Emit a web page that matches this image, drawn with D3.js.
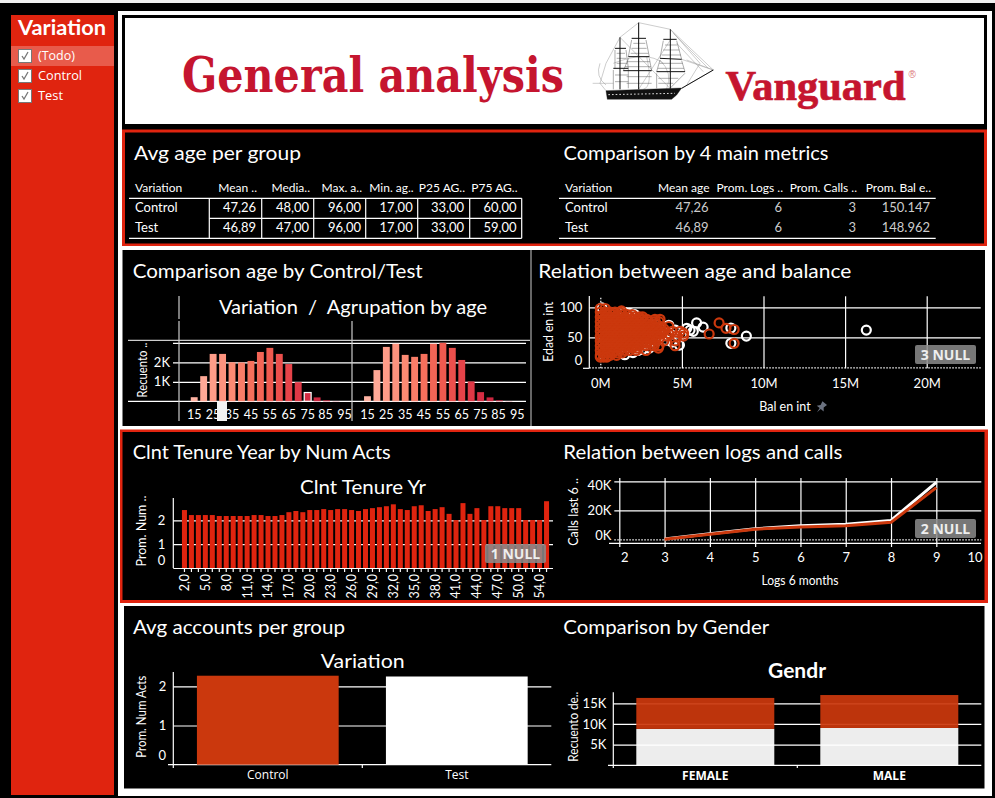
<!DOCTYPE html>
<html lang="en">
<head>
    <meta charset="UTF-8">
    <title>General analysis</title>
    <script type="text/javascript" src="https://cdn.jsdelivr.net/npm/d3@7"></script>
    <style>
        html, body { margin: 0; padding: 0; background: #000; overflow: hidden; }
        text { font-family: Lato, "Noto Sans", sans-serif; fill: #fff; white-space: pre; }
    </style>
</head>
<body>
<script type="text/javascript">
    var w = 995;
    var h = 798;

    // filter list
    var filterItems = ["(Todo)", "Control", "Test"];

    // tables
    var groups = ["Control", "Test"];
    var ageHeaders = ["Mean ..", "Media..", "Max. a..", "Min. ag..", "P25 AG..", "P75 AG.."];
    var ageRows = [
        ["47,26", "48,00", "96,00", "17,00", "33,00", "60,00"],
        ["46,89", "47,00", "96,00", "17,00", "33,00", "59,00"]
    ];
    var metricHeaders = ["Mean age", "Prom. Logs ..", "Prom. Calls ..", "Prom. Bal e.."];
    var metricRows = [
        ["47,26", "6", "3", "150.147"],
        ["46,89", "6", "3", "148.962"]
    ];

    // age histogram
    var ageBins = [15, 20, 25, 30, 35, 40, 45, 50, 55, 60, 65, 70, 75, 80, 85, 90, 95];
    var ageTicks = [15, 25, 35, 45, 55, 65, 75, 85, 95];
    var controlCounts = [210, 1290, 2430, 2430, 2000, 1990, 2070, 2530, 2740, 2430, 1910, 980, 450, 200, 50, 10, 0];
    var testCounts = [260, 1600, 2790, 2950, 2380, 2280, 2430, 2950, 3000, 2740, 2120, 1020, 470, 200, 50, 10, 0];

    // scatter: balance in millions, age. Dense part is one list of balances per age
    var denseAges = [98, 92, 88, 84, 80, 76, 72, 68, 64, 60, 56, 52, 48, 44, 40, 36, 32, 28, 24, 20, 17];
    var denseBalances = [
        [0, 0.3],
        [0, 0.3, 0.6, 0.9, 1.2],
        [0.15, 0.45, 0.75, 1.05, 1.35, 1.65, 1.95],
        [0, 0.3, 0.6, 0.9, 1.2, 1.5, 1.8, 2.1, 2.4, 2.6],
        [0.15, 0.45, 0.75, 1.05, 1.35, 1.65, 1.95, 2.25, 2.55, 2.85],
        [0, 0.3, 0.6, 0.9, 1.2, 1.5, 1.8, 2.1, 2.4, 2.7, 3.0, 3.3, 3.6],
        [0.15, 0.45, 0.75, 1.05, 1.35, 1.65, 1.95, 2.25, 2.55, 2.85, 3.15, 3.45],
        [0, 0.3, 0.6, 0.9, 1.2, 1.5, 1.8, 2.1, 2.4, 2.7, 3.0, 3.3, 3.7, 4.2],
        [0.15, 0.45, 0.75, 1.05, 1.35, 1.65, 1.95, 2.25, 2.55, 2.85, 3.15, 3.45, 3.9],
        [0, 0.3, 0.6, 0.9, 1.2, 1.5, 1.8, 2.1, 2.4, 2.7, 3.0, 3.3, 3.6, 3.9, 4.4, 4.9],
        [0.15, 0.45, 0.75, 1.05, 1.35, 1.65, 1.95, 2.25, 2.55, 2.85, 3.15, 3.45, 3.75, 4.2],
        [0, 0.3, 0.6, 0.9, 1.2, 1.5, 1.8, 2.1, 2.4, 2.7, 3.0, 3.2, 3.5, 4.1, 4.7, 5.1],
        [0.15, 0.45, 0.75, 1.05, 1.35, 1.65, 1.95, 2.25, 2.55, 2.85, 3.15, 3.6],
        [0, 0.3, 0.6, 0.9, 1.2, 1.5, 1.8, 2.1, 2.4, 2.7, 3.0, 3.4, 3.9, 4.6],
        [0.15, 0.45, 0.75, 1.05, 1.35, 1.65, 1.95, 2.25, 2.55, 2.85, 3.3],
        [0, 0.3, 0.6, 0.9, 1.2, 1.5, 1.8, 2.1, 2.4, 2.8, 3.3, 3.6],
        [0.15, 0.45, 0.75, 1.05, 1.35, 1.65, 1.95, 2.25],
        [0, 0.3, 0.6, 0.9, 1.2, 1.5, 1.8, 2.2, 2.8],
        [0.15, 0.45, 0.75, 1.05, 1.35],
        [0, 0.3, 0.6, 1.0],
        [0, 0.2, 0.4]
    ];
    var controlOutliers = [[1.3, 94], [3.35, 80], [3.66, 80], [3.56, 32], [4.58, 36], [5.1, 57], [6.67, 55.5], [7.28, 74], [7.7, 65], [8.2, 63], [8.2, 40]];
    var testPoints = [[0.1, 99], [1.5, 91], [1.8, 90], [2.1, 88], [3.4, 72], [4.2, 70], [4.6, 62], [5.5, 62], [5.3, 65], [5.7, 60], [5.9, 74], [6.3, 67],
        [8.0, 65.5], [8.0, 40], [8.95, 52], [16.3, 62], [5.0, 55], [4.3, 55], [3.8, 52], [3.5, 45], [4.0, 45], [4.4, 42], [4.85, 37], [3.0, 32], [2.6, 30], [2.3, 28], [2.0, 24.5], [1.5, 21]];

    // tenure bars
    var tenureYears = [2, 3, 4, 5, 6, 7, 8, 9, 10, 11, 12, 13, 14, 15, 16, 17, 18, 19, 20, 21, 22, 23, 24, 25, 26, 27, 28, 29, 30, 31, 32, 33, 34, 35, 36, 37, 38, 39, 40, 41, 42, 43, 44, 45, 46, 47, 48, 49, 50, 51, 52, 54, 55];
    var tenureActs = [2.43, 2.22, 2.22, 2.22, 2.22, 2.18, 2.18, 2.18, 2.18, 2.18, 2.22, 2.22, 2.18, 2.18, 2.22, 2.34, 2.39, 2.34, 2.43, 2.43, 2.47, 2.43, 2.47, 2.47, 2.43, 2.39, 2.47, 2.51, 2.55, 2.59, 2.67, 2.47, 2.43, 2.59, 2.63, 2.39, 2.47, 2.55, 2.27, 2.01, 2.72, 2.27, 2.51, 2.01, 2.59, 2.59, 2.51, 2.51, 2.51, 2.01, 2.01, 2.01, 2.80];

    // logs vs calls
    var logs = [3, 4, 5, 6, 7, 8, 9];
    var callsTest = [200, 3800, 7200, 9400, 10300, 13000, 39300];
    var callsControl = [0, 3500, 7000, 8500, 9400, 11700, 35600];

    // accounts per group
    var avgAccounts = [2.27, 2.25];

    // gender
    var genders = ["FEMALE", "MALE"];
    var genderTest = [8800, 9030];
    var genderControl = [7500, 7970];

    var rust = "#cb380d";
    var red = "#e0240f";
    var brand = "#c5152f";

    var svg = d3.select("body")
        .append("svg")
        .attr("width", w)
        .attr("height", h)
        .style("display", "block");

    function box(x0, y0, x1, y1, fill) {
        return svg.append("rect")
            .attr("x", x0).attr("y", y0)
            .attr("width", x1 - x0).attr("height", y1 - y0)
            .attr("fill", fill);
    }

    function label(parent, x, y, str, size, opts) {
        opts = opts || {};
        var t = parent.append("text")
            .attr("x", x)
            .attr("y", y)
            .attr("font-size", size)
            .attr("text-anchor", opts.anchor || "start")
            .text(str);
        if (opts.width) t.attr("textLength", opts.width).attr("lengthAdjust", "spacingAndGlyphs");
        if (opts.weight) t.attr("font-weight", opts.weight);
        if (opts.family) t.style("font-family", opts.family);
        if (opts.color) t.style("fill", opts.color);
        return t;
    }

    function sideLabel(x, y, str, size, width) {
        return label(svg, 0, 0, str, size, { anchor: "middle", width: width })
            .attr("transform", "translate(" + x + "," + y + ") rotate(-90)");
    }

    // white axis lines and labels on every chart
    function styleAxis(g, size) {
        g.select(".domain").remove();
        g.selectAll("line").attr("stroke", "#fff").attr("stroke-width", 1.2);
        g.selectAll("text").attr("font-size", size || 13);
        return g;
    }

    function moveTick(g, value, dx, dy) {
        g.selectAll(".tick").filter(function (d) { return d === value; })
            .select("text")
            .attr("transform", "translate(" + dx + "," + dy + ")");
    }

    function hLine(x0, x1, y, color, width) {
        return svg.append("line").attr("x1", x0).attr("x2", x1).attr("y1", y).attr("y2", y)
            .attr("stroke", color || "#fff").attr("stroke-width", width || 1.2);
    }

    function vLine(x, y0, y1, color, width) {
        return svg.append("line").attr("x1", x).attr("x2", x).attr("y1", y0).attr("y2", y1)
            .attr("stroke", color || "#fff").attr("stroke-width", width || 1.2);
    }

    function nullPill(x, y, str) {
        svg.append("rect").attr("x", x).attr("y", y).attr("width", 61).attr("height", 19)
            .attr("rx", 2).attr("fill", "#8c8c8c").attr("opacity", 0.85);
        label(svg, x + 30.5, y + 15, str, 14, { anchor: "middle", weight: 700, family: "'Open Sans'", color: "#eee" });
    }

    // ---- page frames
    box(0, 0, w, 3, "#f0f0f0");
    box(11, 15, 114, 795, red);
    box(118, 11, 992, 796, "#fff");
    box(122, 15, 987, 130, "#000");
    box(125, 18, 984, 124, "#fff");
    box(122, 129.5, 987, 246, red);
    box(125, 132.5, 984, 243.5, "#000");
    box(122.5, 250, 985, 426, "#000");
    box(120, 429.5, 988, 603, red);
    box(122.5, 432, 984.5, 600, "#000");
    box(124, 606, 984.5, 788.5, "#000");
    box(530, 250, 532, 426, "#666");

    // ---- filter
    label(svg, 18, 35, "Variation", 20, { weight: 700, width: 88 });
    box(11, 46, 114, 66, "#fff").attr("opacity", 0.25);
    filterItems.forEach(function (item, i) {
        var g = svg.append("g").attr("transform", "translate(18," + (49 + i * 20) + ")");
        g.append("rect").attr("x", 0.5).attr("y", 0.5).attr("width", 13).attr("height", 13)
            .attr("fill", "#fff").attr("stroke", "#777");
        g.append("path").attr("d", "M4 7 L6 10 L10 3").attr("fill", "none").attr("stroke", "#777").attr("stroke-width", 1.3);
        label(svg, 38, 60 + i * 20, item, 13.5, { family: "'Open Sans'", width: [37, 44, 25][i] });
    });

    // ---- header
    label(svg, 182, 92, "General analysis", 48, { weight: 700, family: "'DejaVu Serif',serif", color: brand, width: 382 });
    label(svg, 725.5, 99.5, "Vanguard", 42, { weight: 700, family: "'Liberation Serif'", color: brand, width: 180 })
        .style("stroke", brand).style("stroke-width", 0.7);
    label(svg, 908.5, 78, "®", 10, { family: "'Liberation Sans'", color: "#d77" });

    // ship, decoration only, drawn in 3x crop units
    var ship = svg.append("g").attr("transform", "translate(500,0) scale(0.3333)")
        .attr("fill", "none").attr("stroke", "#111");
    ship.append("path").attr("stroke", "#999").attr("stroke-width", 1.5)
        .attr("d", "M416 68 L511 88 L640 210 L545 265 M511 88 L600 190 L560 255 M416 68 L360 112 L318 190 L300 250 L318 272 M360 112 L511 266 M416 68 L416 268 L511 120 M300 190 Q285 230 318 255 M278 250 L340 250 M340 190 Q440 150 490 190 M440 170 Q460 260 430 268 M480 180 Q520 220 500 266 M545 178 L640 210 M520 100 L625 205 M530 130 L610 215 M560 180 L640 210");
    ship.append("path").attr("stroke", "#666").attr("stroke-width", 1.6)
        .attr("d", "M345 150 L345 205 M378 150 L385 205 L385 265 M340 210 L340 268 M395 120 L385 170 M438 120 L448 170 M386 175 L370 212 M448 175 L455 212 M490 122 L480 175 M530 122 L545 178 M480 180 L470 215 M545 182 L555 215 M470 220 L470 265 M555 220 L510 265 M350 160 L375 160 M350 175 L378 175 M350 190 L382 190 M345 225 L385 225 M345 245 L385 245 M400 130 L436 130 M395 145 L440 145 M392 160 L445 160 M380 185 L450 185 M375 200 L453 200 M380 230 L455 230 M380 250 L455 250 M495 135 L532 135 M490 150 L538 150 M485 165 L543 165 M478 190 L548 190 M474 205 L552 205 M475 235 L535 235 M475 250 L520 250");
    ship.append("path").attr("stroke-width", 3)
        .attr("d", "M360 268 L360 112 M416 268 L416 68 M511 266 L511 88 M545 265 L640 210");
    ship.append("path").attr("stroke-width", 3)
        .attr("d", "M345 145 L378 145 M340 205 L385 205 M395 115 L438 115 M385 170 L448 170 M370 212 L455 212 M490 118 L530 118 M480 175 L545 178 M470 215 L555 215");
    ship.append("path").attr("fill", "#111")
        .attr("d", "M318 272 L545 264 L530 285 L515 298 L322 298 Z");
    ship.append("path").attr("stroke", "#ddd").attr("stroke-width", 3).attr("stroke-dasharray", "5,6")
        .attr("d", "M325 284 L525 280");

    // ---- tables
    label(svg, 134, 160, "Avg age per group", 20, { width: 167 });
    label(svg, 563.5, 160, "Comparison by 4 main metrics", 20, { width: 265 });

    var ageCols = [209.3, 261.7, 313.7, 365.7, 417.7, 469.7, 521.7];
    var ageRight = [256, 309, 361, 412.7, 464, 516.5];
    var rowY = [212, 232];
    label(svg, 135, 192, "Variation", 12);
    ageHeaders.forEach(function (d, i) {
        label(svg, ageRight[i] + 1, 192, d, 12, { anchor: "end" });
    });
    hLine(129, 521.7, 198.3);
    hLine(209.3, 521.7, 218.3);
    hLine(129, 521.7, 238.3);
    ageCols.forEach(function (x) { vLine(x, 198.3, 238.3); });
    groups.forEach(function (g, r) {
        label(svg, 135, rowY[r], g, 13);
        ageRows[r].forEach(function (v, i) {
            label(svg, ageRight[i], rowY[r] - 0.5, v, 13, { anchor: "end" });
        });
    });

    var metricRight = [708.5, 782, 856, 930];
    label(svg, 565, 192, "Variation", 12);
    metricHeaders.forEach(function (d, i) {
        label(svg, metricRight[i] + 1, 192, d, 12, { anchor: "end" });
    });
    hLine(559, 935.7, 198.3);
    hLine(559, 935.7, 238.3);
    groups.forEach(function (g, r) {
        label(svg, 565, rowY[r], g, 13);
        metricRows[r].forEach(function (v, i) {
            label(svg, metricRight[i], rowY[r], v, 13, { anchor: "end", color: "#ccc" });
        });
    });

    // ---- age histogram
    label(svg, 132.7, 278, "Comparison age by Control/Test", 20, { width: 290 });
    label(svg, 353, 314, "Variation  /  Agrupation by age", 20, { anchor: "middle", width: 268 });

    var histY = d3.scaleLinear().domain([0, 3000]).range([401.3, 342.8]);
    var histColor = d3.scaleLinear().domain([15, 25, 35, 45, 55, 65, 75, 85])
        .range(["#ffb3a3", "#ff9c88", "#fb8a73", "#f6705c", "#ef5a4f", "#e64349", "#d52d43", "#c21f3a"]);

    var histAxis = svg.append("g").attr("transform", "translate(173,0)")
        .call(d3.axisLeft(histY).tickValues([1000, 2000, 3000]).tickSize(-353)
            .tickFormat(function (d) { return d === 3000 ? "" : (d / 1000) + "K"; }));
    styleAxis(histAxis, 13);
    hLine(128, 530, 340.3, "#ccc");
    hLine(128, 526, 401.3);
    vLine(179, 296, 319, "#ccc");
    vLine(179, 321, 421, "#ccc");
    vLine(352, 321, 421, "#ccc");
    sideLabel(147, 370, "Recuento ..", 12.5, 55);

    [[controlCounts, 188.2, 351.5], [testCounts, 361.5, 524.3]].forEach(function (pane) {
        var x = d3.scaleBand().domain(ageBins).range([pane[1], pane[2]]).padding(0.27);
        var bars = svg.selectAll(null)
            .data(pane[0]).enter()
            .append("rect")
            .attr("x", function (d, i) { return x(ageBins[i]); })
            .attr("y", function (d) { return histY(d); })
            .attr("width", x.bandwidth())
            .attr("height", function (d) { return histY(0) - histY(d); })
            .attr("fill", function (d, i) { return histColor(Math.min(ageBins[i], 85)); });
        if (pane[0] === controlCounts) {
            bars.filter(function (d, i) { return ageBins[i] === 75; })
                .attr("stroke", "#fff").attr("stroke-width", 1.2);
        }
        var ax = svg.append("g").attr("transform", "translate(0,401.3)")
            .call(d3.axisBottom(x).tickValues(ageTicks).tickSize(0).tickPadding(9));
        styleAxis(ax, 12.5);
        moveTick(ax, 85, -1, 0);
        moveTick(ax, 95, -1, 0);
    });
    box(217, 401.7, 227, 421, "#f2f2f2");

    // ---- scatter
    label(svg, 538.3, 278, "Relation between age and balance", 20, { width: 313 });

    var scatterX = d3.scaleLinear().domain([0, 20]).range([600.3, 926.7]);
    var scatterY = d3.scaleLinear().domain([0, 100]).range([367.3, 307.3]);

    var gridY = svg.append("g").attr("transform", "translate(589.3,0)")
        .call(d3.axisLeft(scatterY).tickValues([0, 50, 100]).tickSize(-391.4).tickPadding(7));
    styleAxis(gridY, 13);
    gridY.selectAll(".tick").filter(function (d) { return d === 0; }).select("line")
        .attr("stroke-dasharray", "1.5,1.5");
    moveTick(gridY, 0, 0, -7);

    var gridX = svg.append("g").attr("transform", "translate(0,368.3)")
        .call(d3.axisBottom(scatterX).tickValues([0, 5, 10, 15, 20])
            .tickFormat(function (d) { return d + "M"; }).tickSize(-72).tickPadding(10));
    styleAxis(gridX, 13);
    gridX.selectAll(".tick").filter(function (d) { return d === 0; }).select("line")
        .attr("stroke-dasharray", "1.5,1.5");
    vLine(589.3, 296, 368.3);
    hLine(583, 589.3, 368.3);
    sideLabel(553, 331.7, "Edad en int", 12.5, 60);
    label(svg, 785, 411, "Bal en int", 12.5, { anchor: "middle" });
    svg.append("path").attr("transform", "translate(821.5,407) rotate(40)").attr("fill", "#6b7280")
        .attr("d", "M-3 -5 L3 -5 L2 -1 L4.5 2 L0.7 2 L0 7 L-0.7 2 L-4.5 2 L-2 -1 Z");

    var controlPoints = d3.merge(denseAges.map(function (age, i) {
        return denseBalances[i].map(function (b) { return [b, age]; });
    })).concat(controlOutliers);

    function dots(points, color) {
        svg.selectAll(null)
            .data(points).enter()
            .append("circle")
            .attr("cx", function (d) { return scatterX(d[0]); })
            .attr("cy", function (d) { return scatterY(d[1]); })
            .attr("r", 4.5)
            .attr("fill", "none")
            .attr("stroke", color)
            .attr("stroke-width", 2.2);
    }
    dots(testPoints, "#fff");
    dots(controlPoints, rust);
    nullPill(915, 345, "3 NULL");

    // ---- tenure
    label(svg, 132.7, 459, "Clnt Tenure Year by Num Acts", 20, { width: 258 });
    label(svg, 363, 494, "Clnt Tenure Yr", 20, { anchor: "middle", width: 126 });

    var tenureX = d3.scaleBand().domain(tenureYears).range([180, 551]).padding(0.28);
    var tenureY = d3.scaleLinear().domain([0, 2]).range([568, 520.3]);

    var tenureGrid = svg.append("g").attr("transform", "translate(173.3,0)")
        .call(d3.axisLeft(tenureY).tickValues([0, 1, 2]).tickSize(-379.7).tickPadding(8).tickFormat(d3.format("d")));
    styleAxis(tenureGrid, 13);
    moveTick(tenureGrid, 0, 0, -8);
    vLine(173.3, 498, 568);

    svg.selectAll(null)
        .data(tenureActs).enter()
        .append("rect")
        .attr("x", function (d, i) { return tenureX(tenureYears[i]); })
        .attr("y", function (d) { return tenureY(d); })
        .attr("width", tenureX.bandwidth())
        .attr("height", function (d) { return tenureY(0) - tenureY(d); })
        .attr("fill", red);

    var tenureAxis = svg.append("g").attr("transform", "translate(0,568)")
        .call(d3.axisBottom(tenureX).tickSize(4)
            .tickFormat(function (d) { return tenureYears.indexOf(d) % 3 === 0 ? d + ",0" : ""; }));
    styleAxis(tenureAxis, 12.5);
    tenureAxis.selectAll("text")
        .attr("transform", "rotate(-90)")
        .attr("x", -6).attr("y", 0).attr("dy", ".35em")
        .attr("text-anchor", "end");
    sideLabel(146, 531, "Prom. Num ..", 12.5);
    nullPill(485, 544, "1 NULL");

    // ---- logs and calls
    label(svg, 563.3, 459, "Relation between logs and calls", 20, { width: 279 });

    var logsX = d3.scaleLinear().domain([2, 10]).range([619.3, 981.6]);
    var callsY = d3.scaleLinear().domain([0, 40000]).range([539.3, 481.3]);

    var callsAxis = svg.append("g").attr("transform", "translate(614.3,0)")
        .call(d3.axisLeft(callsY).tickValues([0, 20000, 40000]).tickSize(-367).tickPadding(3)
            .tickFormat(function (d) { return (d / 1000) + "K"; }));
    styleAxis(callsAxis, 13);
    callsAxis.selectAll(".tick").filter(function (d) { return d === 0; }).select("line")
        .attr("stroke-dasharray", "1.5,1.5");
    moveTick(callsAxis, 40000, 0, 4);
    moveTick(callsAxis, 0, 0, -4);

    var logsAxis = svg.append("g").attr("transform", "translate(0,547)")
        .call(d3.axisBottom(logsX).tickValues(d3.range(2, 11)).tickSize(-69).tickPadding(6));
    styleAxis(logsAxis, 13);
    moveTick(logsAxis, 2, 5, 0);
    moveTick(logsAxis, 10, -7, 0);
    logsAxis.selectAll(".tick").filter(function (d) { return d === 10; }).select("line").remove();
    hLine(609, 981, 543.3);
    sideLabel(578, 512, "Calls last 6 ..", 12.5);
    label(svg, 800, 585, "Logs 6 months", 12.5, { anchor: "middle", width: 77 });

    var callLine = d3.line()
        .x(function (d, i) { return logsX(logs[i]); })
        .y(function (d) { return callsY(d); });
    svg.append("path").attr("d", callLine(callsTest))
        .attr("fill", "none").attr("stroke", "#fff").attr("stroke-width", 3);
    svg.append("path").attr("d", callLine(callsControl))
        .attr("fill", "none").attr("stroke", rust).attr("stroke-width", 3);
    nullPill(915, 519, "2 NULL");

    // ---- accounts
    label(svg, 133, 634, "Avg accounts per group", 20, { width: 212 });
    label(svg, 362.7, 668, "Variation", 20, { anchor: "middle", width: 84 });

    var acctX = d3.scaleBand().domain(groups).range([173.3, 551.3]).paddingInner(0.25).paddingOuter(0.125);
    var acctY = d3.scaleLinear().domain([0, 2]).range([764.7, 686.3]);

    var acctGrid = svg.append("g").attr("transform", "translate(173.3,0)")
        .call(d3.axisLeft(acctY).tickValues([1, 2]).tickSize(-378).tickPadding(7).tickFormat(d3.format("d")));
    styleAxis(acctGrid, 13);
    label(svg, 166, 760, "0", 13, { anchor: "end" });
    vLine(173.3, 672, 768);
    hLine(168, 551.3, 764.7);
    vLine(362.3, 764.7, 768);
    sideLabel(146, 716.7, "Prom. Num Acts", 12.5, 82);

    svg.selectAll(null)
        .data(avgAccounts).enter()
        .append("rect")
        .attr("x", function (d, i) { return acctX(groups[i]); })
        .attr("y", function (d) { return acctY(d); })
        .attr("width", acctX.bandwidth())
        .attr("height", function (d) { return acctY(0) - acctY(d); })
        .attr("fill", function (d, i) { return i === 0 ? rust : "#fff"; });

    var acctAxis = svg.append("g").attr("transform", "translate(0,764.7)")
        .call(d3.axisBottom(acctX).tickSize(0).tickPadding(6));
    styleAxis(acctAxis, 12);
    acctAxis.selectAll("text").style("font-family", "'Open Sans'");

    // ---- gender
    label(svg, 563.3, 634, "Comparison by Gender", 20, { width: 206 });
    label(svg, 797, 678, "Gendr", 20, { anchor: "middle", weight: 700, width: 58 });

    var genderX = d3.scaleBand().domain(genders).range([613.3, 981.3]).paddingInner(0.25).paddingOuter(0.125);
    var genderY = d3.scaleLinear().domain([0, 15000]).range([765.3, 703.3]);

    var genderGrid = svg.append("g").attr("transform", "translate(613.3,0)")
        .call(d3.axisLeft(genderY).tickValues([5000, 10000, 15000]).tickSize(-368).tickPadding(7)
            .tickFormat(function (d) { return (d / 1000) + "K"; }));
    styleAxis(genderGrid, 13);
    vLine(613.3, 692.3, 768);
    hLine(608, 981.3, 765.3);
    vLine(797.3, 765.3, 768);
    sideLabel(578, 726.7, "Recuento de..", 12.5, 70);

    var genderStack = d3.stack().keys([0, 1]).value(function (d, k) { return d[k]; })(
        genders.map(function (g, i) { return [genderTest[i], genderControl[i]]; })
    );
    svg.selectAll(null)
        .data(genderStack).enter()
        .append("g")
        .attr("fill", function (d) { return d.key === 0 ? "#fff" : rust; })
        .attr("fill-opacity", 0.93)
        .selectAll("rect")
        .data(function (d) { return d; }).enter()
        .append("rect")
        .attr("x", function (d, i) { return genderX(genders[i]); })
        .attr("y", function (d) { return genderY(d[1]); })
        .attr("width", genderX.bandwidth())
        .attr("height", function (d) { return genderY(d[0]) - genderY(d[1]); });

    var genderAxis = svg.append("g").attr("transform", "translate(0,765.3)")
        .call(d3.axisBottom(genderX).tickSize(0).tickPadding(6));
    styleAxis(genderAxis, 12);
    genderAxis.selectAll("text").attr("font-weight", 700).style("font-family", "'Open Sans'");
</script>
</body>
</html>
